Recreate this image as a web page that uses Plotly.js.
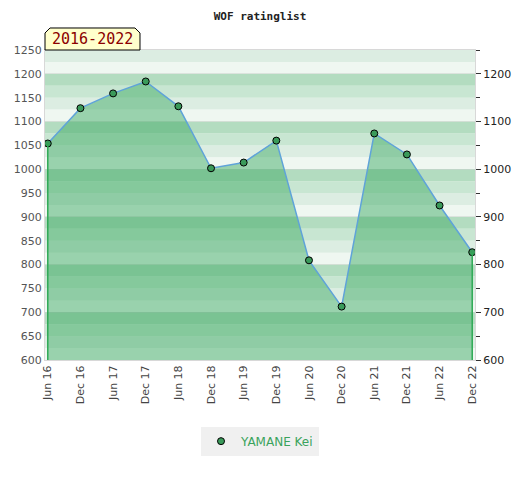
<!DOCTYPE html>
<html>
<head>
<meta charset="utf-8">
<script src="https://cdn.plot.ly/plotly-3.0.1.min.js"></script>
<style>html,body{margin:0;padding:0;background:#fff;}#chart{width:520px;height:480px;}</style>
</head>
<body>
<div id="chart"></div>
<script>
// Data
const categories = ["Jun 16","Dec 16","Jun 17","Dec 17","Jun 18","Dec 18","Jun 19","Dec 19","Jun 20","Dec 20","Jun 21","Dec 21","Jun 22","Dec 22"];
const ratings = [1054, 1128, 1159, 1184, 1132, 1002, 1014, 1060, 809, 712, 1075, 1031, 924, 826];
const seriesName = "YAMANE Kei";
const chartTitle = "WOF ratinglist";
const periodLabel = "2016-2022";
const yMin = 600, yMax = 1250;

// Background bands (decoration), built from axis range
const bandColors = ["#eff7f1", "#dcede2", "#c8e6d2", "#b3dcc0"];
const shapes = [];
for (let v = yMin; v < yMax; v += 25) {
  const p = ((v - yMin) / 25) % 4;
  shapes.push({type: "rect", xref: "paper", yref: "y", x0: 0, x1: 1, y0: v, y1: Math.min(v + 25, yMax),
    fillcolor: bandColors[p], line: {width: 0}, layer: "below"});
}
// period tab
shapes.push({type: "path", xref: "paper", yref: "paper",
  path: "M 0,1.0 L 0,1.0548 L 0.0116,1.071 L 0.2093,1.071 L 0.2209,1.0548 L 0.2209,1.0 Z",
  fillcolor: "#ffffcc", line: {color: "#000", width: 1}, layer: "above"});

const n = categories.length;
const traces = [
  {x: categories, y: ratings, type: "scatter", mode: "lines", fill: "tozeroy",
   fillcolor: "rgba(58,167,96,0.47)", line: {color: "#5fa3d9", width: 1.5}, showlegend: false, hoverinfo: "skip"},
  {x: [categories[0], categories[0]], y: [yMin, ratings[0]], type: "scatter", mode: "lines",
   line: {color: "#2eaa55", width: 1.5}, showlegend: false, hoverinfo: "skip", yaxis: "y2"},
  {x: [categories[n-1], categories[n-1]], y: [yMin, ratings[n-1]], type: "scatter", mode: "lines",
   line: {color: "#2eaa55", width: 1.5}, showlegend: false, hoverinfo: "skip", yaxis: "y2"},
  {x: categories, y: ratings, type: "scatter", mode: "markers", name: seriesName,
   marker: {color: "#3a9a5a", size: 7, line: {color: "#000", width: 1}}}
];

const layout = {
  width: 520, height: 480,
  margin: {l: 45, r: 45, t: 50, b: 120},
  paper_bgcolor: "#fff", plot_bgcolor: "#fff",
  title: {text: chartTitle, x: 0.5, xanchor: "center", y: 0.975, yanchor: "top",
    font: {family: "DejaVu Sans Mono", size: 11, color: "#222", weight: "bold"}},
  xaxis: {type: "category", range: [-0.085, n - 1 + 0.085], tickangle: -90, showgrid: false,
    ticks: "", tickfont: {family: "DejaVu Sans", size: 11, color: "#444"},
    showline: true, linecolor: "#d8d8d8", linewidth: 1, mirror: true, zeroline: false},
  yaxis: {range: [yMin, yMax], dtick: 50, showgrid: false, ticks: "", zeroline: false,
    tickfont: {family: "DejaVu Sans", size: 11, color: "#555"},
    showline: true, linecolor: "#d8d8d8", linewidth: 1, mirror: true},
  yaxis2: {range: [yMin, yMax], overlaying: "y", side: "right", dtick: 100, ticks: "outside", ticklen: 5,
    tickcolor: "#333", tickfont: {family: "DejaVu Sans", size: 11, color: "#222"},
    minor: {dtick: 50, ticks: "outside", ticklen: 4, tickcolor: "#333", showgrid: false},
    showgrid: true, gridcolor: "rgba(0,0,0,0.08)", gridwidth: 1, zeroline: false, showline: false},
  shapes: shapes,
  annotations: [{xref: "paper", yref: "paper", x: 0.1105, y: 1.0355, xanchor: "center", yanchor: "middle",
    text: periodLabel, showarrow: false,
    font: {family: "DejaVu Sans Mono", size: 15, color: "#8b0000"}}],
  showlegend: true,
  legend: {orientation: "h", x: 0.5, xanchor: "center", y: -0.215, yanchor: "top",
    itemwidth: 30, tracegroupgap: 0,
    bgcolor: "#f0f0f0", font: {family: "DejaVu Sans", size: 12, color: "#3aa35c"}}
};

Plotly.newPlot("chart", traces, layout, {displayModeBar: false, staticPlot: true});
</script>
</body>
</html>
